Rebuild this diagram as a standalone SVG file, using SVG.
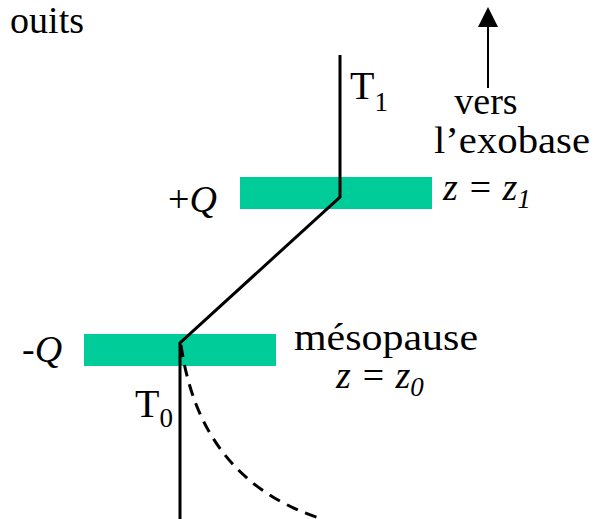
<svg xmlns="http://www.w3.org/2000/svg" width="595" height="519" viewBox="0 0 595 519">
<g id="title"><text x="84" y="33" text-anchor="end" font-family="Liberation Serif, serif" font-size="38">ouits</text></g>
<g id="bar-top"><rect x="240" y="177" width="192" height="32" fill="#00CC99"/></g>
<g id="bar-bottom"><rect x="84" y="334" width="192" height="32" fill="#00CC99"/></g>
<g id="connectors" fill="none" stroke="#000" stroke-width="3">
<polyline points="340,55 340,197 180,343 180,519"/>
<path d="M181,345 Q200,480 322,519" stroke-dasharray="12,8"/>
<line x1="488" y1="88" x2="488" y2="26" stroke-width="2"/>
<path d="M478,27 L488,7 L498,27 z" fill="#000" stroke="none"/>
</g>
<g id="labels" font-family="Liberation Serif, serif" font-size="38" fill="#000">
<text x="350" y="99" font-size="40">T<tspan font-size="27" dy="12">1</tspan></text>
<text x="486" y="114" text-anchor="middle">vers</text>
<text x="434" y="153" textLength="156" lengthAdjust="spacingAndGlyphs">l’exobase</text>
<text x="168" y="212">+<tspan font-style="italic">Q</tspan></text>
<text x="443" y="200" font-style="italic">z = z<tspan font-size="27" dy="8">1</tspan></text>
<text x="22" y="362">-<tspan font-style="italic">Q</tspan></text>
<text x="294" y="350" textLength="184" lengthAdjust="spacingAndGlyphs">mésopause</text>
<text x="336" y="388" font-style="italic">z = z<tspan font-size="27" dy="8">0</tspan></text>
<text x="135" y="417" font-size="40">T<tspan font-size="27" dy="10">0</tspan></text>
</g>
</svg>
